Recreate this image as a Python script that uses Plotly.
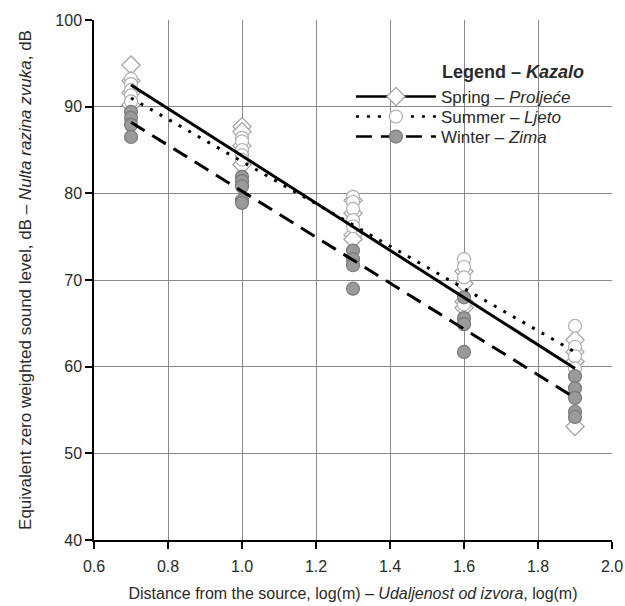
import plotly.graph_objects as go

# Distance categories (log m)
x_levels = [0.7, 1.0, 1.3, 1.6, 1.9]

# Measured levels per distance (dB)
spring_vals = [
    [94.8, 93.0, 91.6, 90.2],
    [87.7, 87.1, 85.5, 83.3],
    [79.2, 77.7, 75.2, 74.7],
    [71.0, 69.6, 67.5, 66.8],
    [63.1, 61.7, 60.6, 53.1],
]
summer_vals = [
    [93.2, 92.6, 91.9, 91.3, 90.6],
    [86.4, 86.0, 85.0, 84.4, 83.9],
    [79.6, 79.0, 78.2, 76.9, 76.2],
    [72.4, 71.5, 70.3, 67.2],
    [64.7, 62.3, 61.2, 59.8],
]
winter_vals = [
    [89.4, 88.7, 87.9, 86.5],
    [81.9, 81.4, 80.8, 79.2, 78.9],
    [73.4, 72.4, 71.7, 69.0],
    [68.0, 65.6, 64.9, 61.7],
    [58.9, 57.5, 56.4, 54.8, 54.2],
]

# Trend lines (read at the ends)
fit_x = [0.7, 1.9]
spring_fit = [92.5, 59.8]
summer_fit = [91.0, 61.7]
winter_fit = [88.2, 56.4]

x_ticks = [0.6, 0.8, 1.0, 1.2, 1.4, 1.6, 1.8, 2.0]
y_ticks = [40, 50, 60, 70, 80, 90, 100]


def flatten(groups):
    xs, ys = [], []
    for xv, g in zip(x_levels, groups):
        for v in g:
            xs.append(xv)
            ys.append(v)
    return xs, ys


FONT = "Liberation Sans, Arial, sans-serif"
TXT = "#2a2a2a"
CLEAR = "rgba(0,0,0,0)"

series = [
    dict(name="Spring – <i>Proljeće</i>", vals=spring_vals, fit=spring_fit,
         symbol="diamond", size=14, fill="white", edge="#a0a0a0",
         dash="solid", legend="legend"),
    dict(name="Summer – <i>Ljeto</i>", vals=summer_vals, fit=summer_fit,
         symbol="circle", size=13, fill="white", edge="#b0b0b0",
         dash="3px,8px", legend="legend2"),
    dict(name="Winter – <i>Zima</i>", vals=winter_vals, fit=winter_fit,
         symbol="circle", size=13, fill="#9a9a9a", edge="#7a7a7a",
         dash="16px,9px", legend="legend3"),
]

fig = go.Figure()

for s in series:
    xs, ys = flatten(s["vals"])
    fig.add_trace(go.Scatter(
        x=xs, y=ys, mode="markers", showlegend=False,
        marker=dict(symbol=s["symbol"], size=s["size"], color=s["fill"],
                    line=dict(color=s["edge"], width=1.2)),
    ))

for s in series:
    fig.add_trace(go.Scatter(
        x=fit_x, y=s["fit"], mode="lines", showlegend=False,
        line=dict(color="black", width=3, dash=s["dash"]),
    ))

for s in series:
    fig.add_trace(go.Scatter(
        x=[None], y=[None], mode="lines+markers", name=s["name"],
        legend=s["legend"],
        line=dict(color="black", width=2.5, dash=s["dash"]),
        marker=dict(symbol=s["symbol"], size=s["size"], color=s["fill"],
                    line=dict(color=s["edge"], width=1.2)),
    ))

leg_common = dict(
    x=0.496, xanchor="left", yanchor="middle", bgcolor=CLEAR, borderwidth=0,
    itemwidth=80, font=dict(family=FONT, size=17, color=TXT),
)

# white panel behind the legend (hides grid lines, as in the original)
fig.add_shape(type="rect", xref="paper", yref="paper",
              x0=0.488, x1=0.962, y0=0.74, y1=0.933,
              fillcolor="white", line=dict(width=0), layer="between")

fig.add_annotation(
    xref="paper", yref="paper", x=0.668, y=0.9, xanchor="left", yanchor="middle",
    text="<b>Legend – <i>Kazalo</i></b>", showarrow=False,
    font=dict(family=FONT, size=18, color=TXT),
)

fig.update_layout(
    width=625, height=606,
    margin=dict(l=94, r=13, t=20, b=66),
    paper_bgcolor="white", plot_bgcolor="white",
    font=dict(family=FONT, size=15, color=TXT),
    legend=dict(y=0.852, **leg_common),
    legend2=dict(y=0.8135, **leg_common),
    legend3=dict(y=0.775, **leg_common),
    xaxis=dict(
        range=[0.6, 2.0], tickvals=x_ticks,
        ticktext=[f"{v:.1f}" for v in x_ticks],
        showgrid=True, gridcolor="#8a8a8a", gridwidth=1,
        showline=True, linecolor="black", linewidth=1.5,
        ticks="outside", ticklen=7, tickcolor="black", tickwidth=1.5,
        ticklabelstandoff=4,
        tickfont=dict(size=16),
        zeroline=False, automargin=False,
        title=dict(text="Distance from the source, log(m) – <i>Udaljenost od izvora</i>, log(m)",
                   font=dict(size=16), standoff=14),
    ),
    yaxis=dict(
        range=[40, 100], tickvals=y_ticks,
        showgrid=True, gridcolor="#8a8a8a", gridwidth=1,
        showline=True, linecolor="black", linewidth=1.5,
        ticks="outside", ticklen=7, tickcolor="black", tickwidth=1.5,
        tickfont=dict(size=16),
        zeroline=False, automargin=False,
        title=dict(text="Equivalent zero weighted sound level, dB – <i>Nulta razina zvuka</i>, dB",
                   font=dict(size=17), standoff=19),
    ),
)

fig.write_html("out.html")
